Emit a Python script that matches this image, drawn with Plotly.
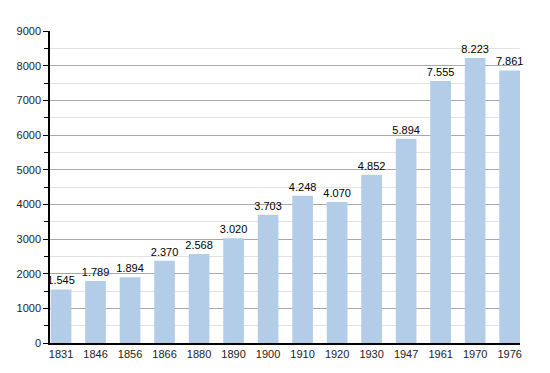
import plotly.graph_objects as go

years = ["1831", "1846", "1856", "1866", "1880", "1890", "1900", "1910", "1920", "1930", "1947", "1961", "1970", "1976"]
population = [1545, 1789, 1894, 2370, 2568, 3020, 3703, 4248, 4070, 4852, 5894, 7555, 8223, 7861]
labels = [f"{v:,}".replace(",", ".") for v in population]

fig = go.Figure(go.Bar(
    x=years, y=population, text=labels, textposition="outside",
    marker=dict(color="#b3cde8", line=dict(width=0)),
    textfont=dict(size=11, color="#000"), cliponaxis=False, constraintext="none",
))
fig.update_layout(
    width=550, height=373, margin=dict(l=42, r=38, t=23, b=38, autoexpand=False),
    paper_bgcolor="white", plot_bgcolor="white",
    font=dict(family="Liberation Sans, Arial, sans-serif", size=11, color="#222"),
    bargap=0.4, showlegend=False,
)
fig.update_xaxes(showline=True, linecolor="black", linewidth=1.5, ticks="", showgrid=False,
                 tickfont=dict(size=11), automargin=False, range=[-0.32, 13.30])
fig.update_yaxes(range=[0, 9000], dtick=1000, showline=True, linecolor="black", linewidth=1.5,
                 ticks="outside", ticklen=5, tickcolor="black", gridcolor="#a8a8a8", gridwidth=1,
                 tickformat="d", zeroline=False, automargin=False,
                 minor=dict(dtick=500, showgrid=True, gridcolor="#e2e2e2", ticks="outside",
                            ticklen=4, tickcolor="black"))
fig.write_html("out.html")
